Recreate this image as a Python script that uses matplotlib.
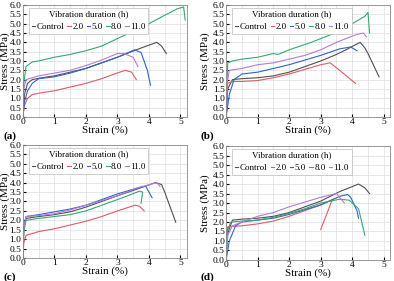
import matplotlib
matplotlib.use("Agg")
import matplotlib.pyplot as plt
import numpy as np

plt.rcParams['font.family'] = ['Liberation Serif', 'DejaVu Serif']

labels = ["Control", "2.0", "5.0", "8.0", "11.0"]
colors = ["#505050", "#e05a66", "#2f63c4", "#35a872", "#b67ad6"]
panel_names = ["(a)", "(b)", "(c)", "(d)"]

# panel (a): strain (%), stress (MPa)
a_ctrl_x = [0, 0.05, 0.15, 0.3, 0.6, 1.0, 1.5, 2.0, 2.5, 3.0, 3.6, 4.0, 4.25, 4.4, 4.55]
a_ctrl_y = [0, 1.2, 1.8, 2.0, 2.1, 2.2, 2.4, 2.6, 2.9, 3.2, 3.6, 3.85, 4.0, 3.8, 3.4]
a_20_x = [0, 0.05, 0.15, 0.3, 0.6, 1.0, 1.5, 2.0, 2.5, 2.9, 3.25, 3.45, 3.6]
a_20_y = [0, 0.6, 1.0, 1.2, 1.3, 1.4, 1.6, 1.8, 2.05, 2.3, 2.5, 2.4, 2.0]
a_50_x = [0, 0.05, 0.15, 0.3, 0.5, 1.0, 1.5, 2.0, 2.5, 3.0, 3.55, 3.75, 3.95, 4.05]
a_50_y = [0, 0.8, 1.4, 1.8, 2.05, 2.15, 2.35, 2.6, 2.9, 3.2, 3.6, 3.45, 2.5, 1.7]
a_80_x = [0, 0.03, 0.1, 0.3, 0.5, 1.0, 1.5, 2.0, 2.5, 3.0, 3.5, 4.0, 4.5, 4.9, 5.1, 5.15]
a_80_y = [0, 1.8, 2.7, 2.95, 3.0, 3.2, 3.35, 3.55, 3.8, 4.2, 4.6, 5.0, 5.45, 5.8, 5.9, 5.2]
a_110_x = [0, 0.03, 0.1, 0.3, 0.5, 1.0, 1.5, 2.0, 2.5, 3.0, 3.2, 3.5, 3.65]
a_110_y = [0, 1.5, 2.0, 2.1, 2.2, 2.35, 2.5, 2.75, 3.05, 3.4, 3.4, 3.2, 2.7]

# panel (b)
b_ctrl_x = [0, 0.05, 0.2, 0.5, 1.0, 1.5, 2.0, 2.5, 3.0, 3.5, 3.8, 4.25, 4.4, 4.5, 4.85]
b_ctrl_y = [0, 1.5, 2.0, 2.05, 2.1, 2.2, 2.4, 2.7, 3.0, 3.35, 3.6, 4.0, 3.7, 3.4, 2.15]
b_20_x = [0, 0.03, 0.05, 0.2, 0.5, 1.0, 1.5, 2.0, 2.5, 3.0, 3.3, 3.6, 4.1]
b_20_y = [0, 1.5, 1.8, 1.9, 1.9, 1.95, 2.1, 2.3, 2.55, 2.8, 2.9, 2.5, 1.8]
b_50_x = [0, 0.1, 0.25, 0.5, 1.0, 1.5, 2.0, 2.5, 3.0, 3.6, 3.95, 4.15]
b_50_y = [0, 1.2, 2.0, 2.3, 2.4, 2.6, 2.8, 3.05, 3.3, 3.65, 3.75, 3.55]
b_80_x = [0, 0.03, 0.05, 0.2, 0.5, 1.0, 1.5, 1.65, 2.0, 2.7, 3.3, 4.0, 4.4, 4.5, 4.55]
b_80_y = [0, 2.0, 2.9, 3.0, 3.1, 3.2, 3.4, 3.35, 3.6, 4.0, 4.4, 5.0, 5.4, 5.6, 4.5]
b_110_x = [0, 0.03, 0.1, 0.5, 1.0, 1.5, 2.0, 2.5, 3.0, 3.5, 4.1, 4.35, 4.45]
b_110_y = [0, 1.8, 2.5, 2.6, 2.8, 2.9, 3.1, 3.3, 3.6, 4.0, 4.4, 4.5, 4.3]

# panel (c)
c_ctrl_x = [0, 0.03, 0.1, 0.5, 1.0, 1.5, 2.0, 2.5, 3.0, 3.7, 4.2, 4.4, 4.5, 4.85]
c_ctrl_y = [0, 1.5, 2.1, 2.2, 2.3, 2.45, 2.7, 3.0, 3.3, 3.7, 4.0, 3.9, 3.5, 1.9]
c_20_x = [0, 0.03, 0.1, 0.5, 1.0, 1.5, 2.0, 2.5, 3.0, 3.55, 3.7, 3.85]
c_20_y = [0, 0.8, 1.2, 1.4, 1.55, 1.75, 1.95, 2.2, 2.5, 2.8, 2.75, 2.5]
c_50_x = [0, 0.03, 0.1, 0.5, 1.0, 1.5, 2.0, 2.5, 3.0, 3.5, 3.8, 3.9, 4.1]
c_50_y = [0, 1.6, 2.2, 2.3, 2.45, 2.6, 2.8, 3.1, 3.4, 3.65, 3.8, 3.8, 3.2]
c_80_x = [0, 0.03, 0.1, 0.5, 1.0, 1.5, 2.0, 2.5, 3.0, 3.4, 3.7, 3.8, 3.75]
c_80_y = [0, 1.4, 2.0, 2.1, 2.2, 2.3, 2.5, 2.8, 3.1, 3.35, 3.55, 3.5, 2.9]
c_110_x = [0, 0.03, 0.1, 0.5, 1.0, 1.5, 2.0, 2.5, 3.0, 3.6, 4.25, 4.35]
c_110_y = [0, 1.6, 2.2, 2.25, 2.35, 2.55, 2.8, 3.05, 3.3, 3.7, 4.0, 3.8]

# panel (d)
d_ctrl_x = [0, 0.05, 0.2, 0.5, 1.0, 1.5, 2.0, 2.5, 3.0, 3.6, 4.2, 4.4, 4.55]
d_ctrl_y = [0, 1.4, 2.1, 2.15, 2.2, 2.3, 2.5, 2.8, 3.1, 3.6, 4.0, 3.8, 3.5]
d_20_x = [0, 0.02, 0.05, 0.5, 1.0, 1.5, 2.0, 2.5, 3.0, 3.4, 3.35, 3.0]
d_20_y = [0, 1.4, 1.75, 1.8, 1.9, 2.05, 2.3, 2.6, 2.9, 3.2, 3.1, 1.6]
d_50_x = [0, 0.1, 0.3, 0.5, 1.0, 1.5, 2.0, 2.5, 3.0, 3.6, 3.85, 3.95, 4.15, 4.2]
d_50_y = [0, 1.0, 1.8, 2.0, 2.1, 2.2, 2.4, 2.65, 2.9, 3.35, 3.45, 3.3, 2.6, 2.2]
d_80_x = [0, 0.03, 0.15, 0.5, 1.0, 1.5, 2.0, 2.5, 3.0, 3.6, 3.9, 4.2, 4.4]
d_80_y = [0, 1.5, 2.0, 2.05, 2.1, 2.25, 2.45, 2.7, 3.0, 3.2, 3.15, 2.7, 1.3]
d_110_x = [0, 0.05, 0.2, 0.5, 1.0, 1.5, 2.0, 2.5, 3.0, 3.5, 3.6, 3.75]
d_110_y = [0, 1.3, 1.8, 2.0, 2.3, 2.5, 2.8, 3.05, 3.3, 3.5, 3.3, 3.0]

panels = [
    [(a_ctrl_x, a_ctrl_y), (a_20_x, a_20_y), (a_50_x, a_50_y), (a_80_x, a_80_y), (a_110_x, a_110_y)],
    [(b_ctrl_x, b_ctrl_y), (b_20_x, b_20_y), (b_50_x, b_50_y), (b_80_x, b_80_y), (b_110_x, b_110_y)],
    [(c_ctrl_x, c_ctrl_y), (c_20_x, c_20_y), (c_50_x, c_50_y), (c_80_x, c_80_y), (c_110_x, c_110_y)],
    [(d_ctrl_x, d_ctrl_y), (d_20_x, d_20_y), (d_50_x, d_50_y), (d_80_x, d_80_y), (d_110_x, d_110_y)],
]

# axes rectangles (left, bottom, width, height) in figure fractions
rects = [
    [0.058, 0.584, 0.416, 0.398],
    [0.574, 0.584, 0.416, 0.398],
    [0.058, 0.082, 0.416, 0.402],
    [0.574, 0.075, 0.416, 0.405],
]
label_pos = [(0.008, 0.505), (0.51, 0.505), (0.008, 0.005), (0.51, 0.005)]
ylab_x = [-0.078, -0.1, -0.078, -0.1]

fig = plt.figure(figsize=(3.94, 2.81), dpi=100)

for i in range(4):
    ax = fig.add_axes(rects[i])
    for j in range(5):
        x, y = panels[i][j]
        ax.plot(x, y, color=colors[j], lw=0.8, label=labels[j])

    ax.set_xlim(0, 5.2)
    ax.set_ylim(0, 6.0)
    ax.set_xticks(np.arange(0, 6, 1))
    ax.set_xticks(np.arange(0, 5.5, 0.5), minor=True)
    ax.set_yticks(np.arange(0, 6.01, 0.5))
    ax.set_yticklabels(["%.1f" % v for v in np.arange(0, 6.01, 0.5)])
    ax.grid(which="both", color="#dddddd", lw=0.5)
    ax.set_axisbelow(True)
    ax.tick_params(direction="in", labelsize=6.8, length=2, pad=1)
    ax.tick_params(which="minor", length=0)
    for s in ax.spines.values():
        s.set_color("#888888")
        s.set_linewidth(0.6)

    ax.set_xlabel("Strain (%)", fontsize=8, labelpad=-1)
    ax.set_ylabel("Stress (MPa)", fontsize=8)
    ax.yaxis.set_label_coords(ylab_x[i], 0.5)

    leg = ax.legend(ncol=5, title="Vibration duration (h)", loc="upper left",
                    bbox_to_anchor=(0.02, 1.0), borderaxespad=0.3, fontsize=6.5,
                    title_fontsize=6.5, handlelength=0.4, handletextpad=0.15,
                    columnspacing=0.35, borderpad=0.3, fancybox=False,
                    framealpha=1, edgecolor="#bbbbbb")
    leg.get_frame().set_linewidth(0.5)

    fig.text(label_pos[i][0], label_pos[i][1], panel_names[i], fontsize=8, fontweight="bold")

fig.savefig("out.png", dpi=100)
